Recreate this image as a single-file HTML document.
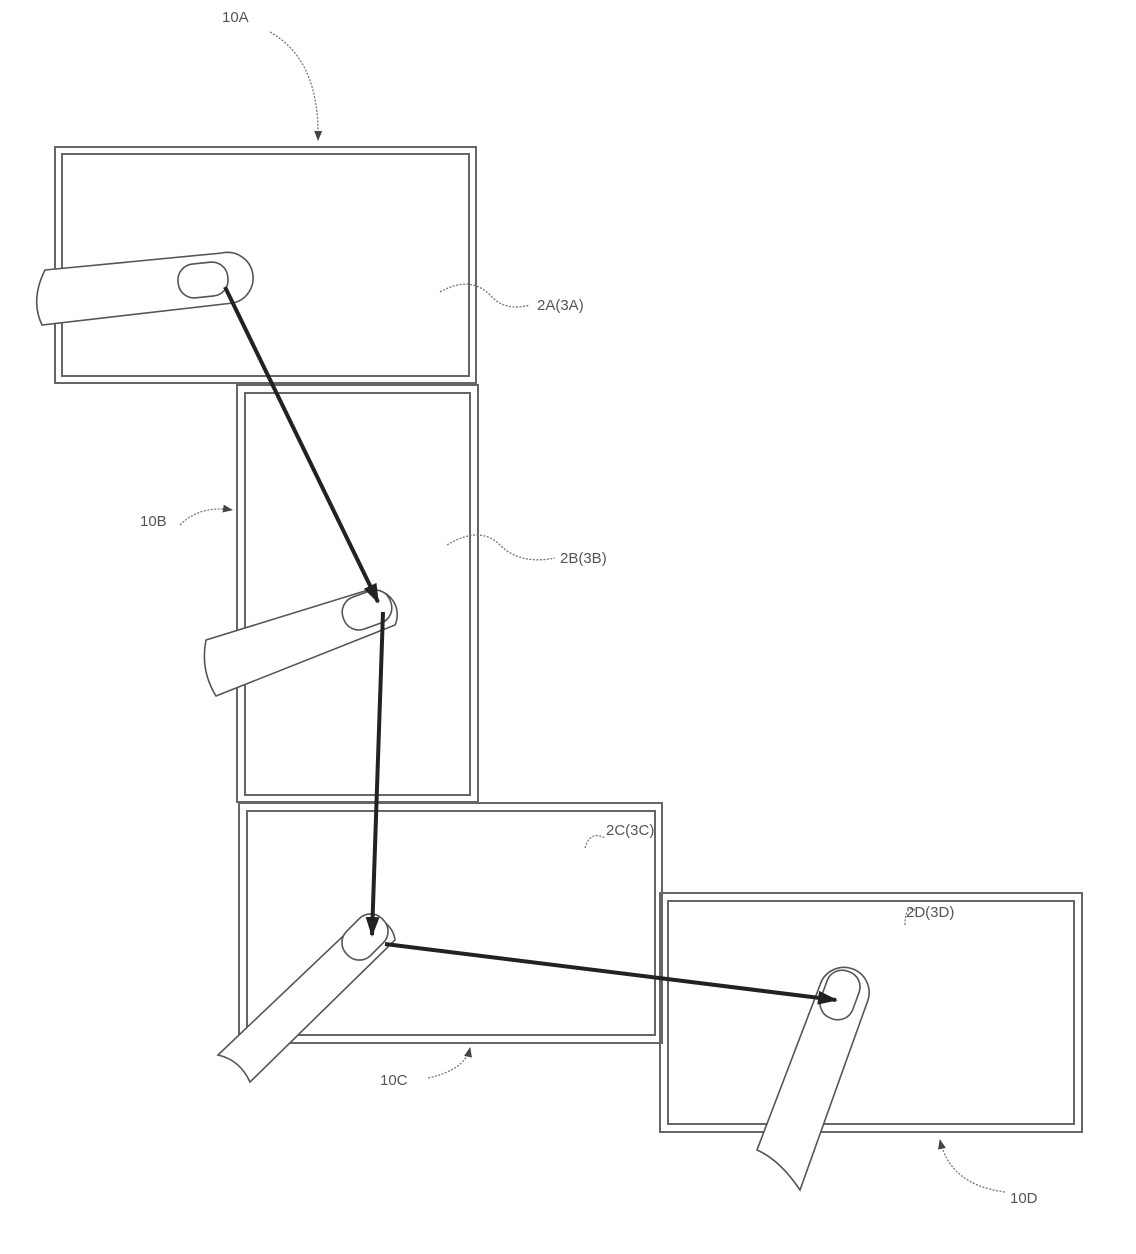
<!DOCTYPE html>
<html><head><style>body{margin:0;background:#fff}svg{display:block}text{font-family:"Liberation Sans",sans-serif;font-size:15px;fill:#555}</style></head>
<body>
<svg width="1136" height="1254" viewBox="0 0 1136 1254" xmlns="http://www.w3.org/2000/svg">
<defs>
<marker id="ah" markerWidth="20" markerHeight="14" refX="18" refY="7" orient="auto" markerUnits="userSpaceOnUse"><path d="M0,0 L20,7 L0,14 z" fill="#222"/></marker>
<marker id="sa" markerWidth="10" markerHeight="10" refX="9" refY="5" orient="auto" markerUnits="userSpaceOnUse"><path d="M0,1 L10,5 L0,9 z" fill="#444"/></marker>
</defs>
<g fill="none" stroke="#666" stroke-width="2">
<rect x="55" y="147" width="421" height="236"/><rect x="62" y="154" width="407" height="222"/>
<rect x="237" y="385" width="241" height="417"/><rect x="245" y="393" width="225" height="402"/>
<rect x="239" y="803" width="423" height="240"/><rect x="247" y="811" width="408" height="224"/>
<rect x="660" y="893" width="422" height="239"/><rect x="668" y="901" width="406" height="223"/>
</g>
<g fill="#fff" stroke="#555" stroke-width="1.6">
<path d="M45,270 L222,253 A25,25 0 0 1 233,303 L42,325 Q30,300 45,270 z"/>
<rect x="178" y="263" width="50" height="34" rx="16" transform="rotate(-6 203 280)"/>
<path d="M206,640 L368,590 A25,25 0 0 1 395,625 L216,696 Q200,670 206,640 z"/>
<rect x="342" y="593" width="50" height="34" rx="16" transform="rotate(-20 367 610)"/>
<path d="M218,1055 L360,920 A25,25 0 0 1 395,940 L250,1082 Q240,1060 218,1055 z"/>
<rect x="340" y="920" width="50" height="34" rx="16" transform="rotate(-45 365 937)"/>
<path d="M757,1150 L820,985 A25,25 0 0 1 868,1000 L800,1190 Q780,1160 757,1150 z"/>
<rect x="815" y="978" width="50" height="34" rx="16" transform="rotate(-70 840 995)"/>
</g>
<g stroke="#222" stroke-width="4" fill="none">
<line x1="225" y1="287" x2="378" y2="602" marker-end="url(#ah)"/>
<line x1="383" y1="612" x2="372" y2="935" marker-end="url(#ah)"/>
<line x1="385" y1="944" x2="836" y2="1000" marker-end="url(#ah)"/>
</g>
<g stroke="#777" stroke-width="1.3" fill="none" stroke-dasharray="2,1.5">
<path d="M270,32 Q320,60 318,140" marker-end="url(#sa)"/>
<path d="M180,525 Q200,505 232,510" marker-end="url(#sa)"/>
<path d="M440,292 Q470,275 490,295 Q505,312 530,305"/>
<path d="M447,545 Q480,525 500,545 Q520,565 555,558"/>
<path d="M585,848 Q590,830 605,838"/>
<path d="M905,925 Q905,905 915,910"/>
<path d="M428,1078 Q465,1070 470,1048" marker-end="url(#sa)"/>
<path d="M1005,1192 Q950,1185 940,1140" marker-end="url(#sa)"/>
</g>
<text x="222" y="22">10A</text>
<text x="140" y="526">10B</text>
<text x="537" y="310">2A(3A)</text>
<text x="560" y="563">2B(3B)</text>
<text x="606" y="835">2C(3C)</text>
<text x="906" y="917">2D(3D)</text>
<text x="380" y="1085">10C</text>
<text x="1010" y="1203">10D</text>
</svg>
</body></html>
